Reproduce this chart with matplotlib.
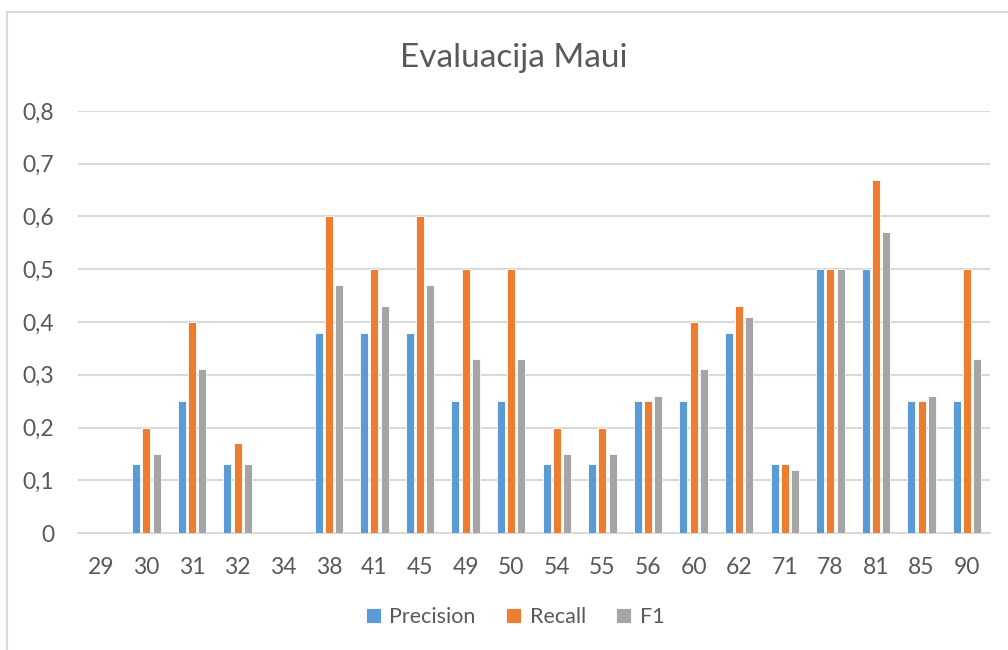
import numpy as np
import matplotlib
matplotlib.use("Agg")
import matplotlib.pyplot as plt
from matplotlib.patches import Rectangle
from matplotlib.ticker import FuncFormatter

plt.rcParams['font.family'] = ['Lato', 'DejaVu Sans']

categories = ['29', '30', '31', '32', '34', '38', '41', '45', '49', '50',
              '54', '55', '56', '60', '62', '71', '78', '81', '85', '90']
precision = [0, 0.13, 0.25, 0.13, 0, 0.38, 0.38, 0.38, 0.25, 0.25,
             0.13, 0.13, 0.25, 0.25, 0.38, 0.13, 0.5, 0.5, 0.25, 0.25]
recall = [0, 0.2, 0.4, 0.17, 0, 0.6, 0.5, 0.6, 0.5, 0.5,
          0.2, 0.2, 0.25, 0.4, 0.43, 0.13, 0.5, 0.67, 0.25, 0.5]
f1 = [0, 0.15, 0.31, 0.13, 0, 0.47, 0.43, 0.47, 0.33, 0.33,
      0.15, 0.15, 0.26, 0.31, 0.41, 0.12, 0.5, 0.57, 0.26, 0.33]

text_col = '#595959'
grid_col = '#D9D9D9'

fig = plt.figure(figsize=(10.08, 6.5), dpi=100)
ax = fig.add_axes([78 / 1008, 1 - 533 / 650, 912 / 1008, 422 / 650])

x = np.arange(len(categories))
w = 0.175
step = 0.224
series = [(precision, '#5B9BD5', 'Precision'),
          (recall, '#ED7D31', 'Recall'),
          (f1, '#A5A5A5', 'F1')]
for i, (vals, col, name) in enumerate(series):
    ax.bar(x + (i - 1) * step, vals, width=w, color=col, label=name,
           edgecolor='white', linewidth=0.6, zorder=3)

ax.set_xlim(-0.5, len(categories) - 0.5)
ax.set_ylim(0, 0.8)
ax.set_yticks(np.arange(0, 0.81, 0.1))
ax.yaxis.set_major_formatter(FuncFormatter(
    lambda v, p: '0' if abs(v) < 1e-9 else ('%.1f' % v).replace('.', ',')))
ax.set_xticks(x)
ax.set_xticklabels(categories)
ax.grid(axis='y', color=grid_col, linewidth=1.5, zorder=0)
for s in ['top', 'right', 'left']:
    ax.spines[s].set_visible(False)
ax.spines['bottom'].set_color(grid_col)
ax.spines['bottom'].set_linewidth(1.5)
ax.tick_params(axis='both', length=0, labelsize=16.5, labelcolor=text_col)
ax.tick_params(axis='y', pad=17)
ax.tick_params(axis='x', pad=17)

fig.text(514 / 1008, 1 - 58 / 650, 'Evaluacija Maui', ha='center', va='center',
         fontsize=24, color=text_col)

leg = fig.legend(loc='center', bbox_to_anchor=(515 / 1008, 1 - 617 / 650),
                 ncol=3, frameon=False, fontsize=15.5, handlelength=0.7,
                 handleheight=0.7, columnspacing=1.4, handletextpad=0.4)
for t in leg.get_texts():
    t.set_color(text_col)

# outer chart frame
fig.patches.append(Rectangle((7 / 1008, -0.05), 1.2, 1 - 12 / 650 + 0.05,
                             transform=fig.transFigure, fill=False,
                             edgecolor=grid_col, linewidth=1.5))

fig.savefig('out.png', dpi=100, facecolor='white')
